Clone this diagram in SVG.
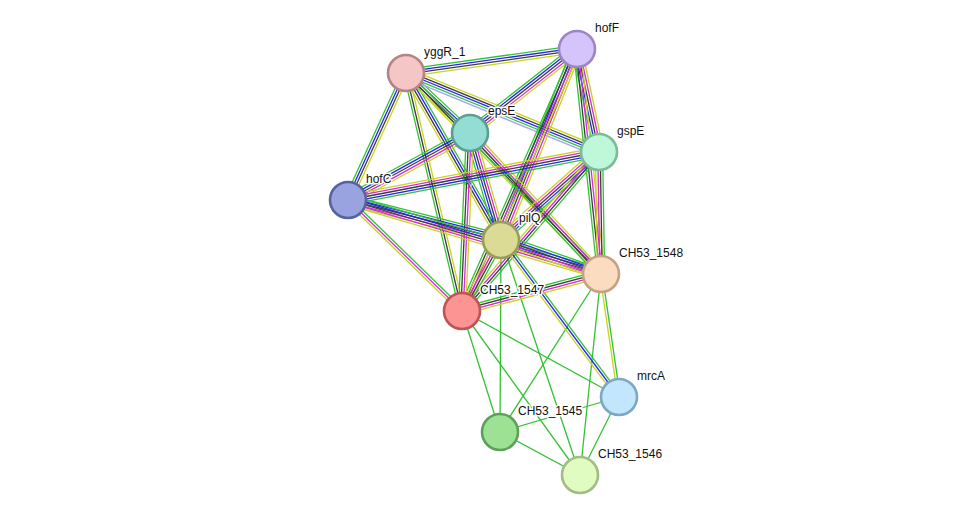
<svg xmlns="http://www.w3.org/2000/svg" xmlns:xlink="http://www.w3.org/1999/xlink" width="976" height="521" viewBox="0 0 976 521">
  <style>
    #edges { fill: none; stroke-width: 1.3; }
    .g { stroke: #33c233; }
    .b { stroke: #2424f0; }
    .k { stroke: #3c3c3c; }
    .m { stroke: #d62ad6; }
    .y { stroke: #c6d41e; }
    .v { stroke: #a3a3fa; }
    .node circle { stroke-width: 2.6; }
    .node text { font-family: "Liberation Sans", Arial, sans-serif; font-size: 12px; fill: #111; stroke: #fff; stroke-width: 3; stroke-linejoin: round; paint-order: stroke; }
  </style>
  <defs>
    <!-- centre lines of the multi-evidence links; each evidence channel is an offset copy -->
    <line id="yf" x1="406" y1="73" x2="577" y2="49"/>
    <line id="ye" x1="406" y1="73" x2="470" y2="133"/>
    <line id="yg" x1="406" y1="73" x2="599" y2="152"/>
    <line id="yc" x1="406" y1="73" x2="348" y2="200"/>
    <line id="yq" x1="406" y1="73" x2="501" y2="239"/>
    <line id="y7" x1="406" y1="73" x2="462" y2="311"/>
    <line id="y8" x1="406" y1="73" x2="601" y2="274"/>
    <line id="fe" x1="577" y1="49" x2="470" y2="133"/>
    <line id="fg" x1="577" y1="49" x2="599" y2="152"/>
    <line id="f8" x1="577" y1="49" x2="601" y2="274"/>
    <line id="fq" x1="577" y1="49" x2="501" y2="239"/>
    <line id="f7" x1="577" y1="49" x2="462" y2="311"/>
    <line id="ec" x1="470" y1="133" x2="348" y2="200"/>
    <line id="eq" x1="470" y1="133" x2="501" y2="239"/>
    <line id="e7" x1="470" y1="133" x2="462" y2="311"/>
    <line id="e8" x1="470" y1="133" x2="601" y2="274"/>
    <line id="gc" x1="599" y1="152" x2="348" y2="200"/>
    <line id="gq" x1="599" y1="152" x2="501" y2="239"/>
    <line id="g7" x1="599" y1="152" x2="462" y2="311"/>
    <line id="g8" x1="599" y1="152" x2="601" y2="274"/>
    <line id="cq" x1="348" y1="200" x2="501" y2="239"/>
    <line id="c8" x1="348" y1="200" x2="601" y2="274"/>
    <line id="c7" x1="348" y1="200" x2="462" y2="311"/>
    <line id="q7" x1="501" y1="239" x2="462" y2="311"/>
    <line id="q8" x1="501" y1="239" x2="601" y2="274"/>
    <line id="qm" x1="501" y1="239" x2="619" y2="397"/>
    <line id="p87" x1="601" y1="274" x2="462" y2="311"/>
    <line id="p8m" x1="601" y1="274" x2="619" y2="397"/>
  </defs>

  <g id="edges">
    <!-- single-channel links -->
    <line class="g" x1="501" y1="239" x2="500" y2="432"/>
    <line class="g" x1="501" y1="239" x2="580" y2="475"/>
    <line class="g" x1="601" y1="274" x2="500" y2="432"/>
    <line class="g" x1="601" y1="274" x2="580" y2="475"/>
    <line class="g" x1="462" y1="311" x2="619" y2="397"/>
    <line class="g" x1="462" y1="311" x2="500" y2="432"/>
    <line class="g" x1="462" y1="311" x2="580" y2="475"/>
    <line class="g" x1="619" y1="397" x2="500" y2="432"/>
    <line class="g" x1="619" y1="397" x2="580" y2="475"/>
    <line class="g" x1="500" y1="432" x2="580" y2="475"/>

    <!-- yggR_1 links -->
    <use xlink:href="#yf" class="g" transform="translate(-0.50,-3.57)"/>
    <use xlink:href="#yf" class="b" transform="translate(-0.17,-1.19)"/>
    <use xlink:href="#yf" class="k" transform="translate(0.17,1.19)"/>
    <use xlink:href="#yf" class="y" transform="translate(0.50,3.57)"/>

    <use xlink:href="#ye" class="g" transform="translate(2.46,-2.63)"/>
    <use xlink:href="#ye" class="b" transform="translate(0.82,-0.88)"/>
    <use xlink:href="#ye" class="k" transform="translate(-0.82,0.88)"/>
    <use xlink:href="#ye" class="y" transform="translate(-2.46,2.63)"/>

    <use xlink:href="#yg" class="y" transform="translate(1.82,-4.44)"/>
    <use xlink:href="#yg" class="k" transform="translate(0.91,-2.22)"/>
    <use xlink:href="#yg" class="b"/>
    <use xlink:href="#yg" class="g" transform="translate(-0.91,2.22)"/>
    <use xlink:href="#yg" class="v" transform="translate(-1.82,4.44)"/>

    <use xlink:href="#yc" class="y" transform="translate(3.27,1.50)"/>
    <use xlink:href="#yc" class="k" transform="translate(1.09,0.50)"/>
    <use xlink:href="#yc" class="b" transform="translate(-1.09,-0.50)"/>
    <use xlink:href="#yc" class="g" transform="translate(-3.27,-1.50)"/>

    <use xlink:href="#yq" class="g" transform="translate(3.12,-1.79)"/>
    <use xlink:href="#yq" class="b" transform="translate(1.04,-0.60)"/>
    <use xlink:href="#yq" class="k" transform="translate(-1.04,0.60)"/>
    <use xlink:href="#yq" class="y" transform="translate(-3.12,1.79)"/>

    <use xlink:href="#y7" class="y" transform="translate(2.34,-0.55)"/>
    <use xlink:href="#y7" class="k"/>
    <use xlink:href="#y7" class="g" transform="translate(-2.34,0.55)"/>

    <use xlink:href="#y8" class="g" transform="translate(1.72,-1.67)"/>
    <use xlink:href="#y8" class="k"/>
    <use xlink:href="#y8" class="y" transform="translate(-1.72,1.67)"/>

    <!-- hofF links -->
    <use xlink:href="#fe" class="y" transform="translate(2.96,3.78)"/>
    <use xlink:href="#fe" class="m" transform="translate(1.48,1.89)"/>
    <use xlink:href="#fe" class="k"/>
    <use xlink:href="#fe" class="b" transform="translate(-1.48,-1.89)"/>
    <use xlink:href="#fe" class="g" transform="translate(-2.96,-3.78)"/>

    <use xlink:href="#fg" class="y" transform="translate(4.70,-1.00)"/>
    <use xlink:href="#fg" class="m" transform="translate(2.35,-0.50)"/>
    <use xlink:href="#fg" class="k"/>
    <use xlink:href="#fg" class="b" transform="translate(-2.35,0.50)"/>
    <use xlink:href="#fg" class="g" transform="translate(-4.70,1.00)"/>

    <use xlink:href="#f8" class="y" transform="translate(3.59,-0.38)"/>
    <use xlink:href="#f8" class="m" transform="translate(1.20,-0.13)"/>
    <use xlink:href="#f8" class="k" transform="translate(-1.20,0.13)"/>
    <use xlink:href="#f8" class="g" transform="translate(-3.59,0.38)"/>

    <use xlink:href="#fq" class="y" transform="translate(4.46,1.78)"/>
    <use xlink:href="#fq" class="m" transform="translate(2.23,0.89)"/>
    <use xlink:href="#fq" class="k"/>
    <use xlink:href="#fq" class="b" transform="translate(-2.23,-0.89)"/>
    <use xlink:href="#fq" class="g" transform="translate(-4.46,-1.78)"/>

    <use xlink:href="#f7" class="y" transform="translate(3.30,1.44)"/>
    <use xlink:href="#f7" class="m" transform="translate(1.10,0.48)"/>
    <use xlink:href="#f7" class="k" transform="translate(-1.10,-0.48)"/>
    <use xlink:href="#f7" class="g" transform="translate(-3.30,-1.44)"/>

    <!-- epsE links -->
    <use xlink:href="#ec" class="y" transform="translate(2.32,4.20)"/>
    <use xlink:href="#ec" class="m" transform="translate(1.16,2.10)"/>
    <use xlink:href="#ec" class="k"/>
    <use xlink:href="#ec" class="b" transform="translate(-1.16,-2.10)"/>
    <use xlink:href="#ec" class="g" transform="translate(-2.32,-4.20)"/>

    <use xlink:href="#eq" class="y" transform="translate(4.60,-1.34)"/>
    <use xlink:href="#eq" class="m" transform="translate(2.30,-0.67)"/>
    <use xlink:href="#eq" class="k"/>
    <use xlink:href="#eq" class="b" transform="translate(-2.30,0.67)"/>
    <use xlink:href="#eq" class="g" transform="translate(-4.60,1.34)"/>

    <use xlink:href="#e7" class="y" transform="translate(3.60,0.17)"/>
    <use xlink:href="#e7" class="m" transform="translate(1.20,0.06)"/>
    <use xlink:href="#e7" class="k" transform="translate(-1.20,-0.06)"/>
    <use xlink:href="#e7" class="g" transform="translate(-3.60,-0.17)"/>

    <use xlink:href="#e8" class="y" transform="translate(2.64,-2.45)"/>
    <use xlink:href="#e8" class="m" transform="translate(0.88,-0.82)"/>
    <use xlink:href="#e8" class="k" transform="translate(-0.88,0.82)"/>
    <use xlink:href="#e8" class="g" transform="translate(-2.64,2.45)"/>

    <!-- gspE links -->
    <use xlink:href="#gc" class="g" transform="translate(0.90,4.72)"/>
    <use xlink:href="#gc" class="b" transform="translate(0.45,2.36)"/>
    <use xlink:href="#gc" class="k"/>
    <use xlink:href="#gc" class="m" transform="translate(-0.45,-2.36)"/>
    <use xlink:href="#gc" class="y" transform="translate(-0.90,-4.72)"/>

    <use xlink:href="#gq" class="g" transform="translate(3.18,3.60)"/>
    <use xlink:href="#gq" class="b" transform="translate(1.59,1.80)"/>
    <use xlink:href="#gq" class="k"/>
    <use xlink:href="#gq" class="m" transform="translate(-1.59,-1.80)"/>
    <use xlink:href="#gq" class="y" transform="translate(-3.18,-3.60)"/>

    <use xlink:href="#g7" class="g" transform="translate(2.73,2.36)"/>
    <use xlink:href="#g7" class="k" transform="translate(0.91,0.79)"/>
    <use xlink:href="#g7" class="m" transform="translate(-0.91,-0.79)"/>
    <use xlink:href="#g7" class="y" transform="translate(-2.73,-2.36)"/>

    <use xlink:href="#g8" class="g" transform="translate(3.60,-0.06)"/>
    <use xlink:href="#g8" class="k" transform="translate(1.20,-0.02)"/>
    <use xlink:href="#g8" class="m" transform="translate(-1.20,0.02)"/>
    <use xlink:href="#g8" class="y" transform="translate(-3.60,0.06)"/>

    <!-- hofC links -->
    <use xlink:href="#cq" class="g" transform="translate(1.18,-4.66)"/>
    <use xlink:href="#cq" class="b" transform="translate(0.59,-2.33)"/>
    <use xlink:href="#cq" class="k"/>
    <use xlink:href="#cq" class="m" transform="translate(-0.59,2.33)"/>
    <use xlink:href="#cq" class="y" transform="translate(-1.18,4.66)"/>

    <use xlink:href="#c8" class="g" transform="translate(1.34,-4.60)"/>
    <use xlink:href="#c8" class="b" transform="translate(0.67,-2.30)"/>
    <use xlink:href="#c8" class="k"/>
    <use xlink:href="#c8" class="m" transform="translate(-0.67,2.30)"/>
    <use xlink:href="#c8" class="y" transform="translate(-1.34,4.60)"/>

    <use xlink:href="#c7" class="g" transform="translate(1.67,-1.72)"/>
    <use xlink:href="#c7" class="m"/>
    <use xlink:href="#c7" class="y" transform="translate(-1.67,1.72)"/>

    <!-- pilQ links -->
    <use xlink:href="#q7" class="g" transform="translate(3.17,1.71)"/>
    <use xlink:href="#q7" class="k" transform="translate(1.06,0.57)"/>
    <use xlink:href="#q7" class="m" transform="translate(-1.06,-0.57)"/>
    <use xlink:href="#q7" class="y" transform="translate(-3.17,-1.71)"/>

    <use xlink:href="#q8" class="g" transform="translate(1.58,-4.54)"/>
    <use xlink:href="#q8" class="b" transform="translate(0.79,-2.27)"/>
    <use xlink:href="#q8" class="k"/>
    <use xlink:href="#q8" class="m" transform="translate(-0.79,2.27)"/>
    <use xlink:href="#q8" class="y" transform="translate(-1.58,4.54)"/>

    <use xlink:href="#qm" class="g" transform="translate(1.92,-1.44)"/>
    <use xlink:href="#qm" class="b"/>
    <use xlink:href="#qm" class="y" transform="translate(-1.92,1.44)"/>

    <!-- CH53_1548 links -->
    <use xlink:href="#p87" class="y" transform="translate(0.93,3.48)"/>
    <use xlink:href="#p87" class="m" transform="translate(0.31,1.16)"/>
    <use xlink:href="#p87" class="k" transform="translate(-0.31,-1.16)"/>
    <use xlink:href="#p87" class="g" transform="translate(-0.93,-3.48)"/>

    <use xlink:href="#p8m" class="g" transform="translate(1.19,-0.18)"/>
    <use xlink:href="#p8m" class="y" transform="translate(-1.19,0.18)"/>
  </g>

  <g id="yggR_1" class="node">
    <circle cx="406" cy="73" r="18" fill="#f5c6c6" stroke="#b48484"/>
    <text x="424" y="56">yggR_1</text>
  </g>
  <g id="hofF" class="node">
    <circle cx="577" cy="49" r="18" fill="#d5c4fc" stroke="#9d85c8"/>
    <text x="595" y="32">hofF</text>
  </g>
  <g id="epsE" class="node">
    <circle cx="470" cy="133" r="18" fill="#94ddd4" stroke="#5a9e94"/>
    <text x="488" y="115">epsE</text>
  </g>
  <g id="gspE" class="node">
    <circle cx="599" cy="152" r="18" fill="#bff8d9" stroke="#7cbb9a"/>
    <text x="617" y="135">gspE</text>
  </g>
  <g id="hofC" class="node">
    <circle cx="348" cy="200" r="18" fill="#98a3e0" stroke="#5563a0"/>
    <text x="366" y="183">hofC</text>
  </g>
  <g id="pilQ" class="node">
    <circle cx="501" cy="240" r="18" fill="#dcdb96" stroke="#9c9b5c"/>
    <text x="519" y="222">pilQ</text>
  </g>
  <g id="CH53_1548" class="node">
    <circle cx="601" cy="274" r="18" fill="#fcdcc0" stroke="#c4a283"/>
    <text x="619" y="257">CH53_1548</text>
  </g>
  <g id="CH53_1547" class="node">
    <circle cx="462" cy="311" r="18" fill="#fc9494" stroke="#bc5555"/>
    <text x="480" y="294">CH53_1547</text>
  </g>
  <g id="mrcA" class="node">
    <circle cx="619" cy="397" r="18" fill="#c2e6fc" stroke="#7ea7c4"/>
    <text x="637" y="380">mrcA</text>
  </g>
  <g id="CH53_1545" class="node">
    <circle cx="500" cy="432" r="18" fill="#9de195" stroke="#5ea05a"/>
    <text x="518" y="415">CH53_1545</text>
  </g>
  <g id="CH53_1546" class="node">
    <circle cx="580" cy="475" r="18" fill="#e0fcc0" stroke="#a2bd83"/>
    <text x="598" y="458">CH53_1546</text>
  </g>
</svg>
